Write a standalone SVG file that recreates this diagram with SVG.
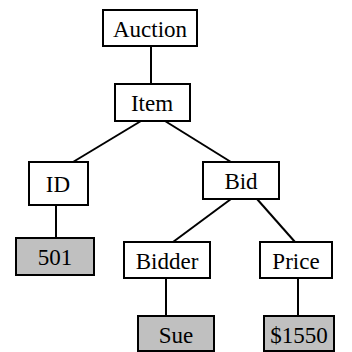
<svg xmlns="http://www.w3.org/2000/svg" width="352" height="352" viewBox="0 0 352 352">
<style>
.box{stroke:#000;stroke-width:2;fill:#fff}
.leaf{fill:#c0c0c0}
text{font-family:"Liberation Serif","Times New Roman",serif;font-size:23px;text-anchor:middle;fill:#000}
#connectors line{stroke:#000;stroke-width:2}
</style>
<g id="connectors">
<line x1="151" y1="46" x2="151" y2="84"/>
<line x1="141" y1="121" x2="73" y2="162"/>
<line x1="165" y1="121" x2="231" y2="162"/>
<line x1="56" y1="205" x2="56" y2="238"/>
<line x1="231" y1="199" x2="173" y2="242"/>
<line x1="257" y1="199" x2="295" y2="242"/>
<line x1="166" y1="278" x2="166" y2="316"/>
<line x1="298" y1="278" x2="298" y2="316"/>
</g>
<g id="auction"><rect class="box" x="103" y="10" width="94" height="36"/><text x="150" y="37">Auction</text></g>
<g id="item"><rect class="box" x="115" y="84" width="75" height="37"/><text x="152" y="111">Item</text></g>
<g id="id"><rect class="box" x="29" y="162" width="59" height="43"/><text x="58" y="192">ID</text></g>
<g id="bid"><rect class="box" x="203" y="162" width="76" height="37"/><text x="241" y="189">Bid</text></g>
<g id="v501"><rect class="box leaf" x="16" y="238" width="78" height="37"/><text x="55" y="265">501</text></g>
<g id="bidder"><rect class="box" x="124" y="242" width="86" height="36"/><text x="167" y="269">Bidder</text></g>
<g id="price"><rect class="box" x="260" y="242" width="72" height="36"/><text x="296" y="269">Price</text></g>
<g id="sue"><rect class="box leaf" x="138" y="316" width="76" height="35"/><text x="176" y="343">Sue</text></g>
<g id="v1550"><rect class="box leaf" x="264" y="316" width="70" height="35"/><text x="299" y="343">$1550</text></g>
</svg>
